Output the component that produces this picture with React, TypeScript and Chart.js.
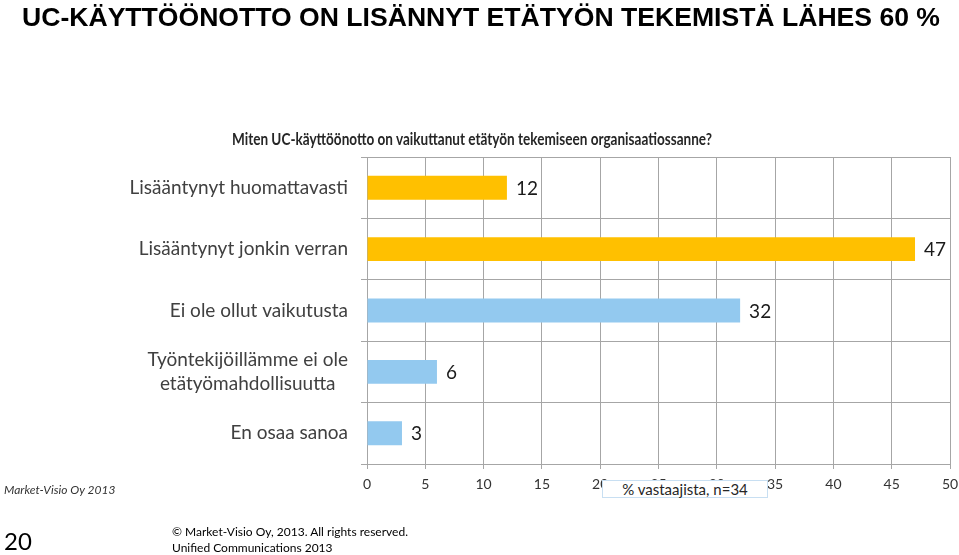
import React, { useEffect, useLayoutEffect, useRef } from "react";
import { Chart, registerables } from "chart.js";

Chart.register(...registerables);

const categories: string[][] = [
  ["Lisääntynyt huomattavasti"],
  ["Lisääntynyt jonkin verran"],
  ["Ei ole ollut vaikutusta"],
  ["Työntekijöillämme ei ole", "etätyömahdollisuutta"],
  ["En osaa sanoa"],
];
const values: number[] = [12, 47, 32, 6, 3];
const barColors: string[] = ["#FFC000", "#FFC000", "#93C9EF", "#93C9EF", "#93C9EF"];
const xMin = 0;
const xMax = 50;
const xStep = 5;

const FONT = "Lato, 'Open Sans', sans-serif";

const labelPlugin = {
  id: "customLabels",
  afterDraw(chart: any) {
    const ctx = chart.ctx;
    const yScale = chart.scales.y;
    const meta = chart.getDatasetMeta(0);
    ctx.save();
    ctx.font = `19px ${FONT}`;
    ctx.fillStyle = "#404040";
    ctx.textBaseline = "middle";
    ctx.textAlign = "center";
    const rightEdge = 348;
    const lineH = 24;
    categories.forEach((lines, i) => {
      const y = yScale.getPixelForValue(i);
      const maxW = Math.max(...lines.map((l) => ctx.measureText(l).width));
      const cx = rightEdge - maxW / 2;
      const y0 = y - ((lines.length - 1) * lineH) / 2;
      lines.forEach((l, j) => ctx.fillText(l, cx, y0 + j * lineH));
    });
    ctx.font = `19px ${FONT}`;
    ctx.fillStyle = "#1a1a1a";
    ctx.textAlign = "left";
    meta.data.forEach((bar: any, i: number) => {
      ctx.fillText(String(values[i]), bar.x + 9, bar.y + 1);
    });
    ctx.restore();
  },
};

function FitText({ width, style, children }: { width: number; style: React.CSSProperties; children: React.ReactNode }) {
  const ref = useRef<HTMLDivElement>(null);
  useLayoutEffect(() => {
    const el = ref.current;
    if (!el) return;
    el.style.transform = "none";
    const w = el.getBoundingClientRect().width;
    if (w > 0) el.style.transform = `scaleX(${width / w})`;
  });
  return (
    <div ref={ref} style={{ position: "absolute", whiteSpace: "nowrap", transformOrigin: "0 0", display: "inline-block", ...style }}>
      {children}
    </div>
  );
}

export default function App() {
  const ref = useRef<HTMLCanvasElement>(null);
  useEffect(() => {
    if (!ref.current) return;
    const chart = new Chart(ref.current, {
      type: "bar",
      data: {
        labels: categories.map((c) => c.join(" ")),
        datasets: [
          {
            data: values,
            backgroundColor: barColors,
            borderWidth: 0,
            barPercentage: 0.39,
            categoryPercentage: 1,
          },
        ],
      },
      options: {
        indexAxis: "y",
        responsive: false,
        animation: false,
        devicePixelRatio: 1,
        layout: { padding: { top: 157, left: 0, right: 0, bottom: 0 } },
        plugins: {
          legend: { display: false },
          tooltip: { enabled: false },
          title: { display: false },
        },
        scales: {
          x: {
            min: xMin,
            max: xMax,
            afterFit(scale: any) {
              scale.height = 91;
              scale.paddingLeft = 0;
              scale.paddingRight = 9;
            },
            ticks: {
              stepSize: xStep,
              font: { family: FONT, size: 14 },
              color: "#333333",
              padding: 7,
              maxRotation: 0,
            },
            grid: { color: "#a6a6a6", tickLength: 5, lineWidth: 1 },
            border: { color: "#a6a6a6" },
          },
          y: {
            afterFit(scale: any) {
              scale.width = 367;
            },
            ticks: { display: false },
            grid: { color: "#a6a6a6", offset: true, tickLength: 6, lineWidth: 1 },
            border: { color: "#a6a6a6" },
          },
        },
      },
      plugins: [labelPlugin],
    });
    return () => chart.destroy();
  }, []);

  const abs = (s: React.CSSProperties): React.CSSProperties => ({ position: "absolute", whiteSpace: "nowrap", ...s });

  return (
    <div style={{ position: "absolute", left: 0, top: 0, width: 959, height: 555, background: "#fff", overflow: "hidden" }}>
      <canvas ref={ref} width={959} height={555} style={{ position: "absolute", left: 0, top: 0, width: 959, height: 555 }} />
      <FitText
        width={918}
        style={{
          left: 22,
          top: 5,
          fontFamily: "'Liberation Sans', Arial, sans-serif",
          fontWeight: "bold",
          fontSize: 25,
          color: "#000",
          lineHeight: "25px",
        }}
      >
        UC-KÄYTTÖÖNOTTO ON LISÄNNYT ETÄTYÖN TEKEMISTÄ LÄHES 60 %
      </FitText>
      <FitText
        width={480}
        style={{
          left: 232,
          top: 128,
          fontFamily: FONT,
          fontWeight: "bold",
          fontSize: 17,
          color: "#262626",
          lineHeight: "22px",
        }}
      >
        Miten UC-käyttöönotto on vaikuttanut etätyön tekemiseen organisaatiossanne?
      </FitText>
      <div
        style={abs({
          left: 602,
          top: 480,
          width: 164,
          height: 16,
          border: "1px solid #c8dff2",
          background: "#fff",
          fontFamily: FONT,
          fontSize: 15,
          lineHeight: "17px",
          color: "#262626",
          textAlign: "center",
        })}
      >
        % vastaajista, n=34
      </div>
      <div style={abs({ left: 4, top: 481, fontFamily: FONT, fontStyle: "italic", fontSize: 12, color: "#333", lineHeight: "18px" })}>
        Market-Visio Oy 2013
      </div>
      <div style={abs({ left: 4, top: 527, fontFamily: FONT, fontSize: 24, color: "#000", lineHeight: "28px" })}>20</div>
      <div style={abs({ left: 172, top: 524, fontFamily: FONT, fontSize: 12, color: "#000", lineHeight: "16px" })}>
        © Market-Visio Oy, 2013. All rights reserved.
        <br />
        Unified Communications 2013
      </div>
    </div>
  );
}
